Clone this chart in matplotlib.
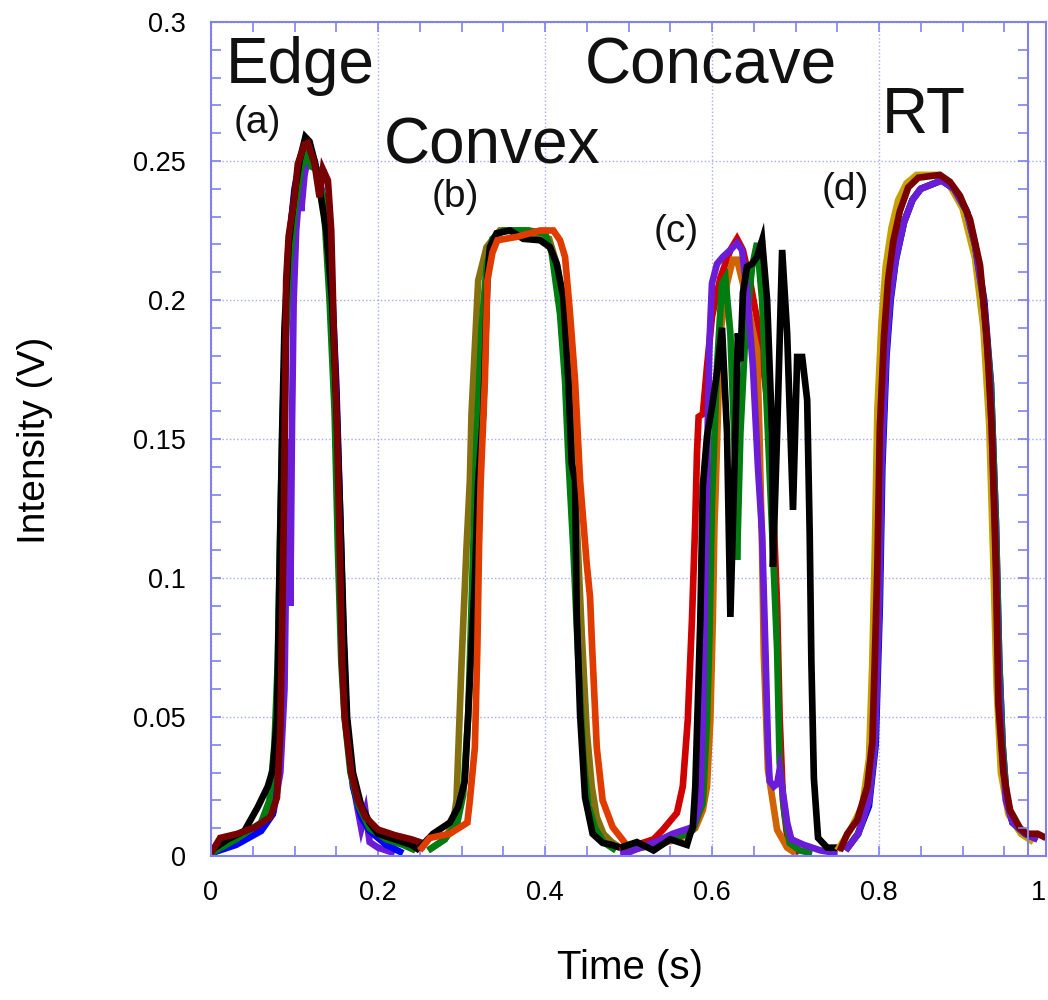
import numpy as np
import matplotlib.pyplot as plt

# ---- data ----
# group (a) Edge
a_darkred_x = [0.0, 0.006, 0.011, 0.032, 0.053, 0.071, 0.079, 0.083, 0.085, 0.087, 0.0886, 0.090, 0.093, 0.1, 0.104, 0.112, 0.116, 0.124, 0.13, 0.134, 0.14, 0.144, 0.147, 0.151, 0.155, 0.157, 0.160, 0.168, 0.176, 0.185, 0.2, 0.22, 0.24, 0.25, 0.252]
a_darkred_y = [0.001, 0.004, 0.0065, 0.008, 0.0104, 0.014, 0.021, 0.045, 0.081, 0.117, 0.16, 0.207, 0.223, 0.237, 0.249, 0.256, 0.2565, 0.249, 0.237, 0.247, 0.243, 0.225, 0.19, 0.153, 0.1, 0.07, 0.05, 0.03, 0.02, 0.014, 0.0095, 0.0075, 0.006, 0.005, 0.002]
a_black_x = [0.0, 0.02, 0.04, 0.056, 0.068, 0.074, 0.079, 0.082, 0.085, 0.088, 0.093, 0.1, 0.106, 0.113, 0.118, 0.124, 0.13, 0.138, 0.145, 0.15, 0.155, 0.159, 0.163, 0.17, 0.18, 0.19, 0.2, 0.22, 0.24, 0.25]
a_black_y = [0.002, 0.006, 0.009, 0.0176, 0.025, 0.031, 0.05, 0.1, 0.15, 0.19, 0.22, 0.238, 0.25, 0.2586, 0.257, 0.25, 0.24, 0.225, 0.2, 0.165, 0.12, 0.08, 0.05, 0.03, 0.018, 0.012, 0.008, 0.006, 0.004, 0.002]
a_green_x = [0.0, 0.03, 0.06, 0.07, 0.076, 0.08, 0.083, 0.087, 0.093, 0.1, 0.108, 0.115, 0.12, 0.127, 0.135, 0.142, 0.148, 0.152, 0.156, 0.16, 0.167, 0.177, 0.19, 0.21, 0.23, 0.245]
a_green_y = [0.001, 0.006, 0.012, 0.02, 0.04, 0.07, 0.12, 0.17, 0.21, 0.232, 0.248, 0.252, 0.248, 0.247, 0.235, 0.2, 0.16, 0.11, 0.07, 0.05, 0.03, 0.018, 0.01, 0.006, 0.004, 0.002]
a_blue_x = [0.0, 0.03, 0.06, 0.074, 0.08, 0.084, 0.087, 0.09, 0.095, 0.1, 0.108, 0.114, 0.12, 0.128, 0.136, 0.144, 0.15, 0.155, 0.159, 0.163, 0.17, 0.18, 0.19, 0.21, 0.23]
a_blue_y = [0.001, 0.004, 0.009, 0.015, 0.03, 0.07, 0.13, 0.19, 0.225, 0.24, 0.252, 0.256, 0.252, 0.245, 0.235, 0.21, 0.17, 0.12, 0.075, 0.045, 0.025, 0.014, 0.009, 0.004, 0.001]
a_purple_x = [0.0, 0.03, 0.06, 0.075, 0.083, 0.088, 0.092, 0.095, 0.097, 0.099, 0.102, 0.106, 0.108, 0.112, 0.118, 0.124, 0.132, 0.14, 0.146, 0.152, 0.157, 0.162, 0.168, 0.175, 0.18, 0.185, 0.19, 0.2, 0.22]
a_purple_y = [0.001, 0.005, 0.01, 0.016, 0.03, 0.06, 0.15, 0.09, 0.155, 0.2, 0.225, 0.24, 0.232, 0.245, 0.254, 0.25, 0.24, 0.22, 0.19, 0.14, 0.09, 0.05, 0.03, 0.018, 0.01, 0.016, 0.005, 0.003, 0.001]

# group (b) Convex
b_orange_x = [0.25, 0.262, 0.286, 0.307, 0.310, 0.316, 0.319, 0.321, 0.323, 0.328, 0.331, 0.337, 0.343, 0.366, 0.394, 0.410, 0.418, 0.424, 0.430, 0.436, 0.442, 0.450, 0.454, 0.456, 0.462, 0.469, 0.481, 0.493, 0.502]
b_orange_y = [0.002, 0.0065, 0.008, 0.012, 0.020, 0.039, 0.075, 0.111, 0.135, 0.171, 0.207, 0.217, 0.2215, 0.2227, 0.225, 0.225, 0.2215, 0.2155, 0.195, 0.171, 0.135, 0.105, 0.093, 0.078, 0.039, 0.020, 0.0104, 0.0058, 0.002]
b_black_x = [0.25, 0.266, 0.286, 0.296, 0.304, 0.310, 0.316, 0.320, 0.326, 0.331, 0.334, 0.342, 0.358, 0.374, 0.394, 0.406, 0.414, 0.422, 0.428, 0.432, 0.436, 0.438, 0.442, 0.448, 0.457, 0.469, 0.48, 0.49]
b_black_y = [0.003, 0.008, 0.012, 0.0176, 0.027, 0.063, 0.099, 0.135, 0.159, 0.207, 0.219, 0.224, 0.225, 0.222, 0.2215, 0.219, 0.213, 0.201, 0.171, 0.141, 0.135, 0.087, 0.051, 0.021, 0.008, 0.0047, 0.004, 0.003]
b_green_x = [0.26, 0.28, 0.295, 0.302, 0.308, 0.313, 0.318, 0.324, 0.33, 0.337, 0.35, 0.38, 0.4, 0.408, 0.418, 0.424, 0.428, 0.434, 0.44, 0.446, 0.452, 0.46, 0.47, 0.485]
b_green_y = [0.002, 0.006, 0.012, 0.022, 0.05, 0.1, 0.15, 0.19, 0.212, 0.222, 0.225, 0.225, 0.224, 0.217, 0.195, 0.171, 0.1435, 0.11, 0.07, 0.035, 0.018, 0.01, 0.005, 0.002]
b_olive_x = [0.26, 0.28, 0.29, 0.294, 0.300, 0.306, 0.310, 0.312, 0.320, 0.330, 0.346, 0.38, 0.405, 0.415, 0.425, 0.432, 0.438, 0.444, 0.45, 0.456, 0.462, 0.47, 0.48, 0.49, 0.5]
b_olive_y = [0.002, 0.006, 0.012, 0.020, 0.069, 0.111, 0.135, 0.159, 0.207, 0.219, 0.225, 0.225, 0.222, 0.212, 0.19, 0.16, 0.12, 0.08, 0.045, 0.025, 0.014, 0.008, 0.005, 0.003, 0.001]

# group (c) Concave
c_red_x = [0.49, 0.51, 0.53, 0.541, 0.558, 0.565, 0.571, 0.576, 0.580, 0.582, 0.584, 0.589, 0.594, 0.600, 0.610, 0.622, 0.630, 0.637, 0.646, 0.657, 0.666, 0.673, 0.678, 0.681, 0.685, 0.690, 0.705]
c_red_y = [0.002, 0.004, 0.006, 0.0094, 0.0155, 0.025, 0.049, 0.085, 0.121, 0.145, 0.158, 0.159, 0.176, 0.194, 0.208, 0.218, 0.222, 0.218, 0.206, 0.188, 0.164, 0.128, 0.09, 0.05, 0.02, 0.007, 0.001]
c_orange_x = [0.5, 0.53, 0.56, 0.58, 0.589, 0.594, 0.598, 0.601, 0.603, 0.604, 0.610, 0.618, 0.625, 0.630, 0.637, 0.654, 0.657, 0.660, 0.662, 0.667, 0.678, 0.690, 0.70]
c_orange_y = [0.002, 0.004, 0.006, 0.01, 0.0165, 0.025, 0.049, 0.085, 0.12, 0.128, 0.188, 0.206, 0.2145, 0.2145, 0.206, 0.182, 0.15, 0.11, 0.073, 0.031, 0.0094, 0.003, 0.001]
c_green_x = [0.5, 0.53, 0.55, 0.570, 0.577, 0.589, 0.594, 0.597, 0.600, 0.606, 0.612, 0.616, 0.622, 0.628, 0.630, 0.634, 0.640, 0.648, 0.654, 0.660, 0.667, 0.673, 0.678, 0.681, 0.687, 0.693, 0.705, 0.72]
c_green_y = [0.002, 0.004, 0.006, 0.008, 0.0094, 0.019, 0.049, 0.08, 0.128, 0.176, 0.206, 0.208, 0.188, 0.140, 0.1065, 0.152, 0.188, 0.212, 0.2205, 0.200, 0.152, 0.110, 0.074, 0.0335, 0.015, 0.0047, 0.002, 0.001]
c_purple_x = [0.49, 0.498, 0.514, 0.538, 0.553, 0.577, 0.586, 0.589, 0.592, 0.594, 0.595, 0.597, 0.600, 0.606, 0.613, 0.622, 0.630, 0.636, 0.642, 0.649, 0.655, 0.660, 0.664, 0.667, 0.669, 0.674, 0.678, 0.681, 0.685, 0.690, 0.695, 0.71, 0.73, 0.75]
c_purple_y = [0.001, 0.001, 0.003, 0.0058, 0.008, 0.0104, 0.019, 0.049, 0.097, 0.133, 0.157, 0.185, 0.206, 0.213, 0.2155, 0.218, 0.2205, 0.218, 0.2025, 0.176, 0.140, 0.116, 0.074, 0.04, 0.027, 0.025, 0.026, 0.031, 0.0227, 0.012, 0.006, 0.004, 0.002, 0.001]
c_black_x = [0.49, 0.51, 0.53, 0.55, 0.57, 0.574, 0.577, 0.580, 0.586, 0.589, 0.594, 0.600, 0.606, 0.612, 0.618, 0.622, 0.628, 0.631, 0.634, 0.637, 0.642, 0.648, 0.654, 0.660, 0.666, 0.672, 0.673, 0.678, 0.684, 0.690, 0.697, 0.702, 0.708, 0.714, 0.717, 0.719, 0.722, 0.727, 0.738, 0.75]
c_black_y = [0.003, 0.005, 0.002, 0.006, 0.004, 0.008, 0.0104, 0.025, 0.085, 0.133, 0.151, 0.1615, 0.174, 0.190, 0.152, 0.086, 0.152, 0.188, 0.178, 0.2025, 0.212, 0.213, 0.2155, 0.2215, 0.200, 0.152, 0.104, 0.152, 0.218, 0.188, 0.1245, 0.1795, 0.1795, 0.164, 0.116, 0.070, 0.028, 0.0065, 0.003, 0.003]

# group (d) RT
d_gold_x = [0.75, 0.765, 0.78, 0.788, 0.792, 0.795, 0.798, 0.803, 0.808, 0.815, 0.823, 0.833, 0.845, 0.87, 0.885, 0.9, 0.915, 0.925, 0.932, 0.937, 0.941, 0.946, 0.955, 0.97, 0.985]
d_gold_y = [0.002, 0.009, 0.018, 0.035, 0.07, 0.11, 0.16, 0.192, 0.212, 0.226, 0.236, 0.242, 0.245, 0.245, 0.241, 0.233, 0.215, 0.19, 0.155, 0.105, 0.06, 0.03, 0.015, 0.008, 0.005]
d_blue_x = [0.76, 0.775, 0.788, 0.796, 0.801, 0.804, 0.809, 0.814, 0.82, 0.83, 0.84, 0.85, 0.875, 0.89, 0.905, 0.915, 0.926, 0.934, 0.94, 0.944, 0.948, 0.953, 0.96, 0.975, 0.99]
d_blue_y = [0.002, 0.008, 0.018, 0.04, 0.09, 0.14, 0.18, 0.2, 0.214, 0.228, 0.236, 0.24, 0.243, 0.24, 0.232, 0.22, 0.2, 0.17, 0.12, 0.07, 0.04, 0.02, 0.012, 0.008, 0.006]
d_green_x = [0.76, 0.775, 0.788, 0.795, 0.8, 0.803, 0.808, 0.813, 0.82, 0.83, 0.84, 0.85, 0.875, 0.89, 0.905, 0.915, 0.925, 0.934, 0.94, 0.944, 0.948, 0.953, 0.96, 0.975, 0.99]
d_green_y = [0.002, 0.008, 0.02, 0.04, 0.09, 0.14, 0.18, 0.2, 0.215, 0.228, 0.236, 0.24, 0.243, 0.24, 0.232, 0.22, 0.2, 0.17, 0.12, 0.07, 0.04, 0.02, 0.012, 0.008, 0.006]
d_purple_x = [0.76, 0.775, 0.788, 0.795, 0.8, 0.803, 0.808, 0.813, 0.82, 0.83, 0.84, 0.85, 0.875, 0.89, 0.905, 0.915, 0.925, 0.933, 0.939, 0.943, 0.947, 0.952, 0.96, 0.975, 0.99]
d_purple_y = [0.002, 0.008, 0.02, 0.04, 0.09, 0.14, 0.18, 0.2, 0.215, 0.228, 0.236, 0.24, 0.243, 0.24, 0.232, 0.22, 0.2, 0.17, 0.12, 0.07, 0.04, 0.02, 0.012, 0.008, 0.006]
d_darkred_x = [0.753, 0.762, 0.774, 0.786, 0.792, 0.795, 0.798, 0.801, 0.806, 0.811, 0.817, 0.825, 0.835, 0.847, 0.873, 0.885, 0.897, 0.909, 0.921, 0.929, 0.935, 0.940, 0.943, 0.949, 0.957, 0.969, 0.977, 0.99, 1.0]
d_darkred_y = [0.0018, 0.008, 0.013, 0.025, 0.041, 0.071, 0.104, 0.154, 0.187, 0.2075, 0.221, 0.232, 0.2405, 0.244, 0.245, 0.2425, 0.2375, 0.229, 0.2125, 0.187, 0.154, 0.104, 0.0545, 0.030, 0.0165, 0.010, 0.008, 0.008, 0.0065]

labels_big = ['Edge', 'Convex', 'Concave', 'RT']
labels_small = ['(a)', '(b)', '(c)', '(d)']

# colours
BLUE = '#0000ff'
PURPLE = '#6a1cd6'
GREEN = '#007d10'
BLACK = '#000000'
DARKRED = '#780000'
OLIVE = '#857010'
ORANGERED = '#e03c00'
RED = '#d00000'
ORANGE = '#d06400'
GOLD = '#c8a000'

# drawing order: bottom to top
curves = [
    (a_purple_x, a_purple_y, PURPLE),
    (a_blue_x, a_blue_y, BLUE),
    (a_green_x, a_green_y, GREEN),
    (a_black_x, a_black_y, BLACK),
    (a_darkred_x, a_darkred_y, DARKRED),
    (b_olive_x, b_olive_y, OLIVE),
    (b_green_x, b_green_y, GREEN),
    (b_black_x, b_black_y, BLACK),
    (b_orange_x, b_orange_y, ORANGERED),
    (c_red_x, c_red_y, RED),
    (c_orange_x, c_orange_y, ORANGE),
    (c_green_x, c_green_y, GREEN),
    (c_purple_x, c_purple_y, PURPLE),
    (c_black_x, c_black_y, BLACK),
    (d_gold_x, d_gold_y, GOLD),
    (d_blue_x, d_blue_y, BLUE),
    (d_green_x, d_green_y, GREEN),
    (d_purple_x, d_purple_y, PURPLE),
    (d_darkred_x, d_darkred_y, DARKRED),
]

plt.rcParams['font.family'] = ['Liberation Sans', 'DejaVu Sans']
AX = '#8080f0'

fig = plt.figure(figsize=(10.48, 10), dpi=100)
L, B, W, H = 211/1048, 1-856/1000, 835/1048, 834/1000
ax = fig.add_axes([L, B, W, H])

for x, y, c in curves:
    ax.plot(x, y, color=c, lw=4.8, solid_joinstyle='miter', solid_capstyle='butt')

ax.set_xlim(0, 1)
ax.set_ylim(0, 0.3)
ax.set_xticks(np.arange(0, 1.01, 0.2))
ax.set_xticklabels(['0', '0.2', '0.4', '0.6', '0.8', '1'])
ax.set_xticks(np.arange(0, 1.001, 0.05), minor=True)
ax.set_yticks(np.arange(0, 0.301, 0.05))
ax.set_yticklabels(['0', '0.05', '0.1', '0.15', '0.2', '0.25', '0.3'])
ax.set_yticks(np.arange(0, 0.301, 0.01), minor=True)
ax.tick_params(which='both', direction='in', color=AX, top=True, right=False,
               labelsize=19.5, width=1.2, length=7)
ax.tick_params(axis='x', pad=17)
ax.tick_params(axis='y', pad=18)
ax.get_xticklabels()[-1].set_horizontalalignment('right')
ax.grid(True, which='major', color='#a8a8ff', linestyle=':', linewidth=1.0)
for s in ax.spines.values():
    s.set_color(AX)
    s.set_linewidth(1.5)

# inner right axis line with ticks
ax2 = fig.add_axes([L, B, W*0.978, H])
ax2.set_ylim(0, 0.3)
ax2.patch.set_alpha(0)
ax2.set_xticks([])
ax2.set_yticks(np.arange(0, 0.301, 0.05))
ax2.set_yticks(np.arange(0, 0.301, 0.01), minor=True)
ax2.yaxis.tick_right()
ax2.tick_params(which='both', direction='in', color=AX, length=7, width=1.2,
                labelright=False, labelleft=False)
for k, s in ax2.spines.items():
    s.set_visible(k == 'right')
    s.set_color(AX)
    s.set_linewidth(1.5)

# annotations
big_pos = [(0.107, 0.278), (0.337, 0.249), (0.599, 0.278), (0.853, 0.260)]
small_pos = [(0.055, 0.260), (0.293, 0.2335), (0.557, 0.221), (0.760, 0.236)]
for t, (x, y) in zip(labels_big, big_pos):
    ax.text(x, y, t, fontsize=46, ha='center', va='baseline', color='#111111')
for t, (x, y) in zip(labels_small, small_pos):
    ax.text(x, y, t, fontsize=28, ha='center', va='baseline', color='#111111')

fig.text(35/1048, 1-440/1000, 'Intensity (V)', rotation=90, fontsize=28,
         ha='center', va='center')
fig.text(630/1048, 1-968/1000, 'Time (s)', fontsize=29, ha='center', va='center')

fig.savefig('out.png', dpi=100)
